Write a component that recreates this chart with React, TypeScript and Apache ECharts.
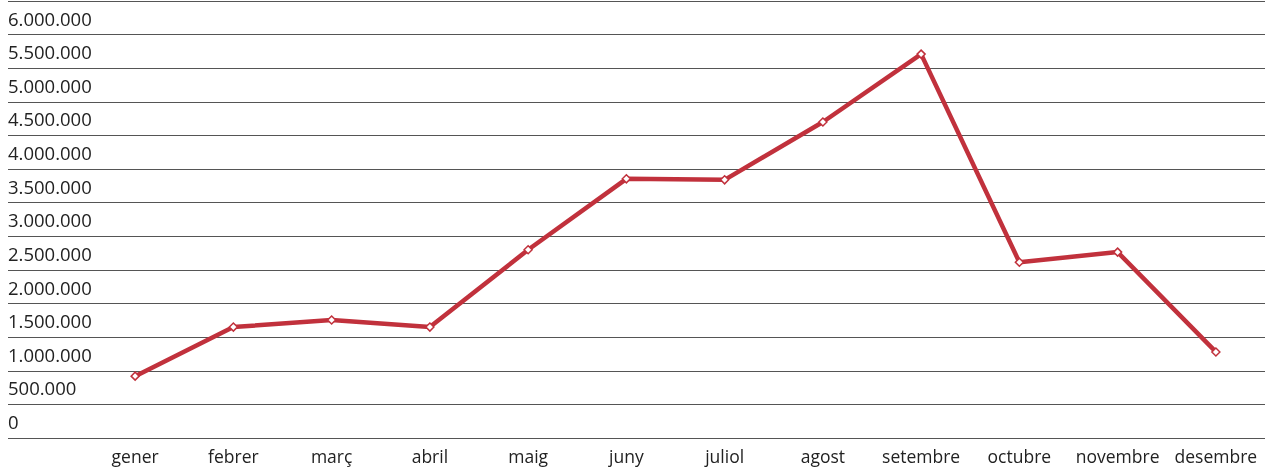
import React, { useEffect, useRef } from "react";
import * as echarts from "echarts";

const months = ["gener", "febrer", "març", "abril", "maig", "juny", "juliol", "agost", "setembre", "octubre", "novembre", "desembre"];
const values = [920000, 1650000, 1755000, 1650000, 2800000, 3855000, 3840000, 4700000, 5710000, 2615000, 2765000, 1280000];
const yMax = 6500000;
const yStep = 500000;

const fmt = (v: number) => {
  if (v >= yMax) return "";
  return String(Math.round(v)).replace(/\B(?=(\d{3})+(?!\d))/g, ".");
};

export default function App() {
  const ref = useRef<HTMLDivElement>(null);
  useEffect(() => {
    if (!ref.current) return;
    const chart = echarts.init(ref.current, null, { renderer: "svg" });
    const font = "'Open Sans', 'Noto Sans', sans-serif";
    chart.setOption({
      animation: false,
      grid: [
        { left: 8, right: 0, top: 1, bottom: 30, containLabel: false },
        { left: 86, right: 0, top: 1, bottom: 30, containLabel: false },
      ],
      xAxis: [
        { type: "category", gridIndex: 0, data: [""], show: false },
        {
          type: "category",
          gridIndex: 1,
          data: months,
          boundaryGap: true,
          axisLine: { show: false },
          axisTick: { show: false },
          axisLabel: { interval: 0, color: "#222", fontSize: 17.5, fontFamily: font, margin: 9 },
        },
      ],
      yAxis: [
        {
          type: "value",
          gridIndex: 0,
          min: 0,
          max: yMax,
          interval: yStep,
          axisLine: { show: false },
          axisTick: { show: false },
          splitLine: { lineStyle: { color: "#555", width: 1 } },
          axisLabel: {
            inside: true,
            color: "#222",
            fontSize: 18.5,
            fontFamily: font,
            verticalAlign: "bottom",
            margin: 0,
            padding: [0, 0, 7, 0],
            formatter: fmt,
          },
        },
        {
          type: "value",
          gridIndex: 1,
          min: 0,
          max: yMax,
          interval: yStep,
          show: false,
          splitLine: { show: false },
        },
      ],
      series: [
        {
          type: "line",
          xAxisIndex: 1,
          yAxisIndex: 1,
          data: values,
          symbol: "diamond",
          symbolSize: 8,
          lineStyle: { color: "#c1313c", width: 4.5 },
          itemStyle: { color: "#fff", borderColor: "#c1313c", borderWidth: 1.5 },
        },
      ],
    });
    return () => chart.dispose();
  }, []);
  return <div ref={ref} style={{ position: "fixed", left: 0, top: 0, width: 1265, height: 468 }} />;
}
